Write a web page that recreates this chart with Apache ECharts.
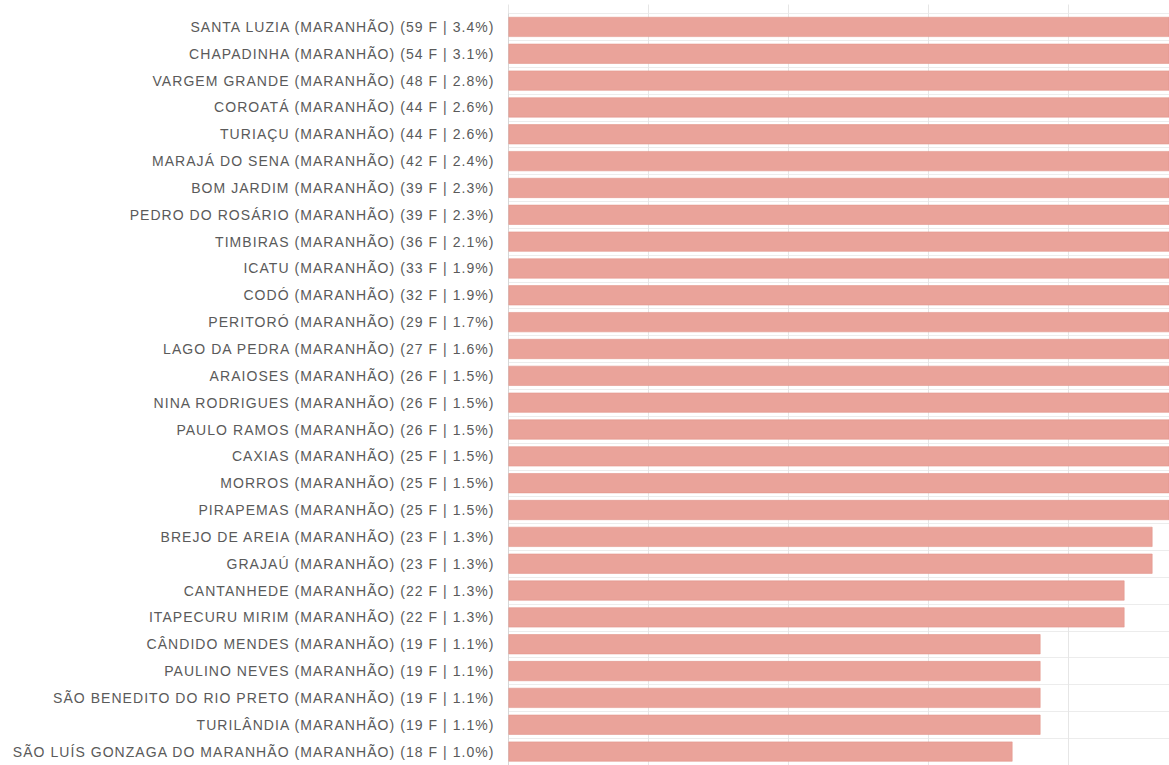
<!DOCTYPE html>
<head>
    <meta charset="utf-8">
    <script type="text/javascript" src="https://cdn.jsdelivr.net/npm/echarts@6/dist/echarts.min.js"></script>
    <style>
        /* labels in the original are spaced wider than plain Arial */
        #container text { letter-spacing: 1.05px; }
    </style>
</head>
<body style="height: 765px; margin: 0; background: #fff">
<div id="container" style="width: 1169px; height: 765px"></div>
<script type="text/javascript">
    // municipios, contagem (F) e percentual
    var cities = ['SANTA LUZIA', 'CHAPADINHA', 'VARGEM GRANDE', 'COROATÁ', 'TURIAÇU',
        'MARAJÁ DO SENA', 'BOM JARDIM', 'PEDRO DO ROSÁRIO', 'TIMBIRAS', 'ICATU', 'CODÓ',
        'PERITORÓ', 'LAGO DA PEDRA', 'ARAIOSES', 'NINA RODRIGUES', 'PAULO RAMOS', 'CAXIAS',
        'MORROS', 'PIRAPEMAS', 'BREJO DE AREIA', 'GRAJAÚ', 'CANTANHEDE', 'ITAPECURU MIRIM',
        'CÂNDIDO MENDES', 'PAULINO NEVES', 'SÃO BENEDITO DO RIO PRETO', 'TURILÂNDIA',
        'SÃO LUÍS GONZAGA DO MARANHÃO'];
    var counts = [59, 54, 48, 44, 44, 42, 39, 39, 36, 33, 32, 29, 27, 26, 26, 26, 25, 25, 25,
        23, 23, 22, 22, 19, 19, 19, 19, 18];
    var percents = ['3.4', '3.1', '2.8', '2.6', '2.6', '2.4', '2.3', '2.3', '2.1', '1.9', '1.9',
        '1.7', '1.6', '1.5', '1.5', '1.5', '1.5', '1.5', '1.5', '1.3', '1.3', '1.3', '1.3',
        '1.1', '1.1', '1.1', '1.1', '1.0'];

    var labels = cities.map(function (c, i) {
        return c + ' (MARANHÃO) (' + counts[i] + ' F | ' + percents[i] + '%)';
    });

    var dom = document.getElementById("container");
    var myChart = echarts.init(dom, null, {renderer: 'svg'});
    var gridColor = '#e6e6e6';
    var option = {
        animation: false,
        grid: {
            left: 508.5,
            right: 0,
            top: 13.5,
            height: 755.5
        },
        xAxis: {
            type: 'value',
            position: 'top',
            min: 0,
            max: 23.59,
            interval: 5,
            axisLine: {show: false},
            axisTick: {show: true, length: 9, lineStyle: {color: gridColor}},
            axisLabel: {show: false},
            splitLine: {lineStyle: {color: gridColor}}
        },
        yAxis: {
            type: 'category',
            inverse: true,
            data: labels,
            axisLine: {lineStyle: {color: '#d6d6d6'}},
            axisTick: {length: 13, lineStyle: {color: gridColor}},
            axisLabel: {
                margin: 14,
                color: '#5a5a5a',
                fontSize: 14,
                fontFamily: 'Liberation Sans, Arial, sans-serif',
                padding: [0, 0, 6, 0]
            },
            splitLine: {show: true, lineStyle: {color: '#ececec'}}
        },
        series: [{
            type: 'bar',
            data: counts,
            barWidth: 20,
            clip: true,
            itemStyle: {
                color: '#eaa39a',
                borderColor: '#e3968c',
                borderWidth: 0.6
            }
        }]
    };
    myChart.setOption(option);
</script>
</body>
</html>
